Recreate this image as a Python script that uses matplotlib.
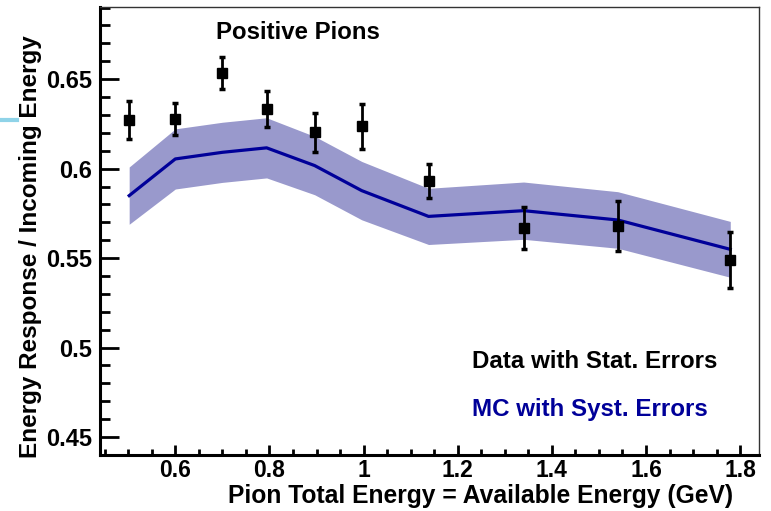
import matplotlib
matplotlib.use("Agg")
import matplotlib.pyplot as plt
from matplotlib.lines import Line2D
from matplotlib.ticker import MultipleLocator
import numpy as np

# Pion total energy (GeV)
energy = [0.502, 0.600, 0.700, 0.794, 0.896, 0.996, 1.138, 1.340, 1.540, 1.779]

# Data: energy response / incoming energy with statistical errors
data_resp = [0.627, 0.6275, 0.6532, 0.6331, 0.6202, 0.6237, 0.5932, 0.5669, 0.5678, 0.5490]
data_stat = [0.0105, 0.0090, 0.0090, 0.0100, 0.0108, 0.0125, 0.0095, 0.0118, 0.0140, 0.0158]

# Monte Carlo prediction with systematic errors
mc_resp = [0.5849, 0.6054, 0.6091, 0.6116, 0.6017, 0.5877, 0.5733, 0.5765, 0.5713, 0.5549]
mc_syst = [0.0160, 0.0168, 0.0168, 0.0168, 0.0163, 0.0163, 0.0157, 0.0160, 0.0158, 0.0156]

x_ticks = [0.6, 0.8, 1.0, 1.2, 1.4, 1.6, 1.8]
x_tick_labels = ["0.6", "0.8", "1", "1.2", "1.4", "1.6", "1.8"]
y_ticks = [0.45, 0.5, 0.55, 0.6, 0.65]
y_tick_labels = ["0.45", "0.5", "0.55", "0.6", "0.65"]

plt.rcParams["font.family"] = ["Liberation Sans", "DejaVu Sans"]
plt.rcParams["font.weight"] = "bold"

fig = plt.figure(figsize=(7.71, 5.11), dpi=100)
ax = fig.add_axes([0.1297, 0.1096, 0.9844 - 0.1297, 0.986 - 0.1096])

mc = np.array(mc_resp)
err = np.array(mc_syst)
ax.fill_between(energy, mc - err, mc + err, color="#9999cc", lw=0, zorder=1)
ax.plot(energy, mc, color="#000099", lw=2.3, zorder=2)

ax.errorbar(energy, data_resp, yerr=data_stat, fmt="s", color="black",
            ms=6.5, elinewidth=2.0, capsize=2.3, capthick=2.5, zorder=3)

ax.set_xlim(0.44, 1.84)
ax.set_ylim(0.44, 0.6902)

ax.set_xticks(x_ticks)
ax.set_xticklabels(x_tick_labels)
ax.set_yticks(y_ticks)
ax.set_yticklabels(y_tick_labels)
ax.xaxis.set_minor_locator(MultipleLocator(0.05))
ax.yaxis.set_minor_locator(MultipleLocator(0.01))

ax.tick_params(axis="both", which="both", direction="in", top=False, right=False,
               width=2.0, color="black")
ax.tick_params(axis="y", which="major", length=14, pad=6, labelsize=17)
ax.tick_params(axis="y", which="minor", length=7)
ax.tick_params(axis="x", which="major", length=7.5, pad=3, labelsize=16.5)
ax.tick_params(axis="x", which="minor", length=4)
for lbl in ax.get_xticklabels() + ax.get_yticklabels():
    lbl.set_fontweight("bold")

for side in ("left", "bottom"):
    ax.spines[side].set_linewidth(2.2)
    ax.spines[side].set_color("black")
for side in ("top", "right"):
    ax.spines[side].set_linewidth(1.0)
    ax.spines[side].set_color("#333333")

ax.set_ylabel("Energy Response / Incoming Energy", fontsize=17.5,
              fontweight="bold", va="center")
ax.yaxis.set_label_coords(-0.106, 0.466)
ax.set_xlabel("Pion Total Energy = Available Energy (GeV)", fontsize=17.7,
              fontweight="bold", ha="right", va="center")
ax.xaxis.set_label_coords(0.961, -0.092)

ax.text(0.30, 0.944, "Positive Pions", transform=ax.transAxes, fontsize=17.3,
        fontweight="bold", ha="center", va="center")
ax.text(0.565, 0.208, "Data with Stat. Errors", transform=ax.transAxes,
        fontsize=17.4, fontweight="bold", ha="left", va="center", color="black")
ax.text(0.565, 0.101, "MC with Syst. Errors", transform=ax.transAxes,
        fontsize=17.4, fontweight="bold", ha="left", va="center", color="#000099")

# small light-blue mark at the left margin
fig.add_artist(Line2D([0.0, 17 / 771], [1 - 120 / 511, 1 - 120 / 511],
                      transform=fig.transFigure, color="#8fd3e8", lw=3))

fig.savefig("out.png", dpi=100)
